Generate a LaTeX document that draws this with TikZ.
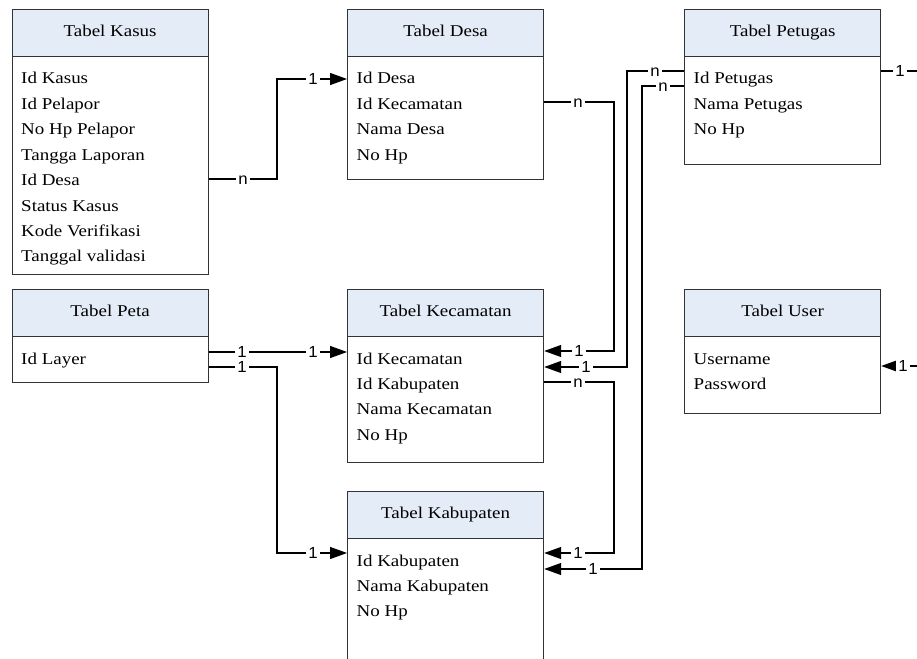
\documentclass[tikz,border=0pt]{standalone}
\usepackage{fontspec}
\setmainfont{Liberation Serif}[FakeStretch=1.15]
\newfontfamily\lblfont{Liberation Sans}[FakeStretch=1.05]
\usetikzlibrary{arrows.meta,calc}
\definecolor{hdrblue}{HTML}{E4ECF7}
\definecolor{edgegray}{HTML}{333333}
\newcommand\mktable[6]{%
  \node[tbl, minimum height=#4pt] (#1) at (#2,#3) {};
  \node[hdr] (#1-h) at (#1.north west) {#5};
  \foreach \f [count=\i] in {#6}
    \node[fld] (#1-f\i) at ($(#1.north west)+(9.5,{75+25.4*(\i-1)})$) {\f};
}
\begin{document}
\begin{tikzpicture}[x=1pt,y=-1pt,
  tbl/.style={draw=edgegray, line width=1.2pt, anchor=north west, minimum width=196pt, inner sep=0pt},
  hdr/.style={draw=edgegray, line width=1.2pt, fill=hdrblue, anchor=north west, minimum width=196pt, minimum height=47pt, inner sep=0pt, font=\fontsize{16.5}{19}\selectfont, text height=11pt, text depth=3.5pt},
  fld/.style={anchor=base west, inner sep=0pt, font=\fontsize{16.5}{19}\selectfont},
  conn/.style={draw=black, line width=1.2pt},
  arr/.style={conn, -{Triangle[length=17pt,width=12pt]}},
  lbl/.style={fill=white, inner xsep=2pt, inner ysep=1pt, text height=11.5pt, text depth=0pt, font=\lblfont\fontsize{16}{16}\selectfont}
]
\useasboundingbox (0,0) rectangle (917,658);
\clip (0,0) rectangle (917,658);

\mktable{kasus}{11.5}{9}{265}{Tabel Kasus}{Id Kasus, Id Pelapor, No Hp Pelapor, Tangga Laporan, Id Desa, Status Kasus, Kode Verifikasi, Tanggal validasi}
\mktable{desa}{347}{9}{170}{Tabel Desa}{Id Desa, Id Kecamatan, Nama Desa, No Hp}
\mktable{pet}{684}{9}{155}{Tabel Petugas}{Id Petugas, Nama Petugas, No Hp}
\mktable{peta}{11.5}{289}{93}{Tabel Peta}{Id Layer}
\mktable{kec}{347}{289}{173}{Tabel Kecamatan}{Id Kecamatan, Id Kabupaten, Nama Kecamatan, No Hp}
\mktable{user}{684}{289}{124}{Tabel User}{Username, Password}
\mktable{kab}{347}{491}{180}{Tabel Kabupaten}{Id Kabupaten, Nama Kabupaten, No Hp}

\coordinate (petout) at (917,71);
\coordinate (userin) at (917,366);

% connectors
\draw[arr] ($(kasus.north east)+(0,170)$) -- (277,179) -- (277,79) -- ($(desa.north west)+(0,70)$);
\draw[arr] ($(desa.north east)+(0,93)$) -- (614,102) -- (614,351) -- ($(kec.north east)+(0,62)$);
\draw[arr] ($(pet.north west)+(0,62)$) -- (627,71) -- (627,367) -- ($(kec.north east)+(0,78)$);
\draw[arr] ($(pet.north west)+(0,77)$) -- (642,86) -- (642,569) -- ($(kab.north east)+(0,78)$);
\draw[arr] ($(kec.north east)+(0,93)$) -- (614,382) -- (614,553) -- ($(kab.north east)+(0,62)$);
\draw[arr] ($(peta.north east)+(0,63)$) -- ($(kec.north west)+(0,63)$);
\draw[arr] ($(peta.north east)+(0,78)$) -- (277,367) -- (277,553) -- ($(kab.north west)+(0,62)$);
\draw[conn] ($(pet.north east)+(0,62)$) -- (petout);
\draw[arr] (userin) -- ($(user.north east)+(0,77)$);

% cardinality labels
\node[lbl] (l1) at (243,179) {n};
\node[lbl] (l2) at (313,79) {1};
\node[lbl] (l3) at (578,102) {n};
\node[lbl] (l4) at (579,351) {1};
\node[lbl] (l5) at (655,71) {n};
\node[lbl] (l6) at (586,367) {1};
\node[lbl] (l7) at (663,86) {n};
\node[lbl] (l8) at (593,569) {1};
\node[lbl] (l9) at (578,382) {n};
\node[lbl] (l10) at (578,553) {1};
\node[lbl] (l11) at (242,352) {1};
\node[lbl] (l12) at (313,352) {1};
\node[lbl] (l13) at (242,367) {1};
\node[lbl] (l14) at (313,553) {1};
\node[lbl] (l15) at (900,71) {1};
\node[lbl] (l16) at (903,366) {1};
\end{tikzpicture}
\end{document}
